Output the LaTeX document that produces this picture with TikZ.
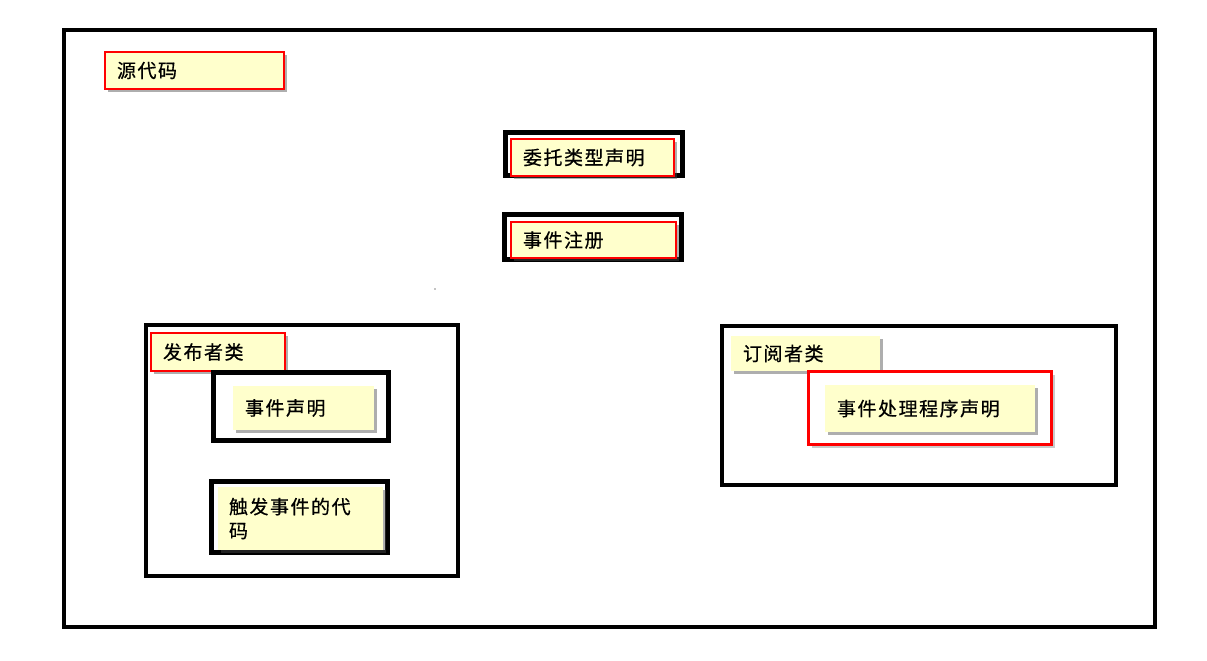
\documentclass[tikz,border=0pt]{standalone}
\usepackage{fontspec}
\newfontfamily\cjk[LetterSpace=8,FakeBold=0.6]{Noto Sans CJK SC}
\usetikzlibrary{shadows}
\definecolor{noteyellow}{HTML}{FFFFCC}
\definecolor{boxred}{HTML}{FF0000}
\tikzset{
  every node/.style={outer sep=0pt},
  note/.style={anchor=north west, rectangle, fill=noteyellow, inner xsep=12pt, inner ysep=0pt,
    align=left, font=\cjk\fontsize{19}{24}\selectfont, text=black,
    drop shadow={shadow xshift=3pt, shadow yshift=-3pt, opacity=0.45, fill=black!70}},
  rednote/.style={note, draw=boxred, line width=2.5pt},
  frame/.style={anchor=north west, rectangle, draw=black, line width=5pt, inner sep=0pt},
  redframe/.style={anchor=north west, rectangle, draw=boxred, fill=white, line width=3pt, inner sep=0pt,
    drop shadow={shadow xshift=3pt, shadow yshift=-3pt, opacity=0.35, fill=black!60}},
  bigframe/.style={anchor=north west, rectangle, draw=black, line width=4pt, inner sep=0pt},
}
\begin{document}
\begin{tikzpicture}[x=1pt,y=-1pt]
\useasboundingbox (0,0) rectangle (1207,661);
% outer frame
\node[bigframe, minimum width=1091, minimum height=597] (outer) at (64,30) {};
% source code label
\node[rednote, minimum width=179, minimum height=37, text width=155] (src) at (105,52) {源代码};
% delegate type declaration
\node[frame, minimum width=177, minimum height=43] (f1) at (505.5,132.5) {};
\node[rednote, minimum width=163, minimum height=37, text width=139] (deleg) at (511,139) {委托类型声明};
% event registration
\node[frame, minimum width=177, minimum height=45] (f2) at (504.5,214.5) {};
\node[rednote, minimum width=165, minimum height=36, text width=141] (reg) at (511,222) {事件注册};
% tiny dot
\fill (435,289) circle (0.7) coordinate (dot);
% publisher class
\node[bigframe, minimum width=312, minimum height=251] (pub) at (146,325) {};
\node[rednote, minimum width=134, minimum height=38, text width=110] (publ) at (151,333) {发布者类};
\node[frame, minimum width=175, minimum height=68] (f3) at (213.5,372.5) {};
\node[note, minimum width=141, minimum height=44, text width=117] (evdecl) at (233,386) {事件声明};
\node[frame, minimum width=176, minimum height=71] (f4) at (211.5,481.5) {};
\node[note, minimum width=165, minimum height=63, inner xsep=11pt, text width=143] (fire) at (218,487) {触发事件的代\\码};
% subscriber class
\node[bigframe, minimum width=394, minimum height=159] (sub) at (722,326) {};
\node[note, minimum width=149, minimum height=35, text width=125] (subl) at (731,336) {订阅者类};
\node[redframe, minimum width=243, minimum height=73] (f5) at (808.5,371.5) {};
\node[note, minimum width=210, minimum height=47, text width=186] (handler) at (825,385) {事件处理程序声明};
\end{tikzpicture}
\end{document}
